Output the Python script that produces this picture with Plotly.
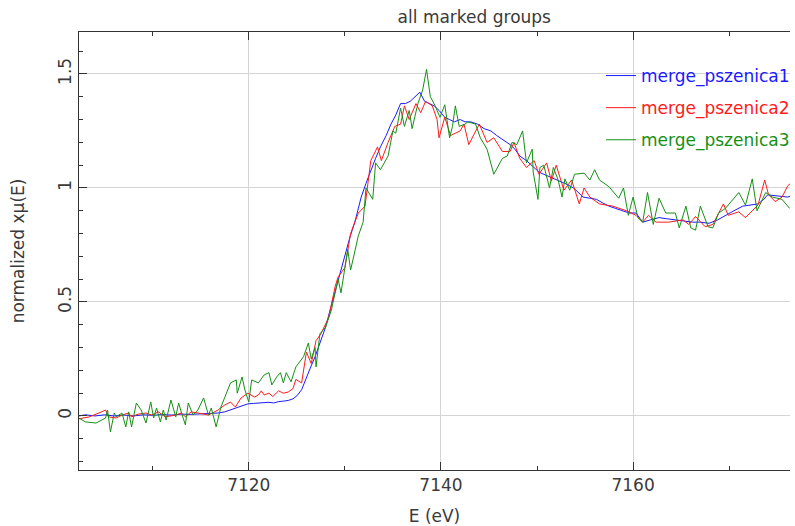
import plotly.graph_objects as go

# ---- data ----
e1 = [7102.3, 7103.0, 7104.0, 7105.0, 7106.0, 7107.0, 7108.0, 7109.0, 7110.0, 7111.0,
      7112.0, 7113.0, 7114.0, 7115.0, 7116.0, 7116.8, 7117.5, 7118.1, 7118.8, 7119.3,
      7119.9, 7120.5, 7121.0, 7121.6, 7122.1, 7122.6, 7123.1, 7123.6, 7124.1, 7124.6,
      7125.0, 7125.5, 7125.9, 7126.4, 7126.9, 7127.5, 7128.0, 7128.5, 7129.0, 7129.5,
      7130.0, 7130.5, 7131.1, 7131.7, 7132.2, 7132.7, 7133.2, 7133.7, 7134.3, 7134.8,
      7135.3, 7135.8, 7136.3, 7136.8, 7137.3, 7137.8, 7138.3, 7138.8, 7139.3, 7139.8,
      7140.4, 7140.9, 7141.4, 7142.0, 7142.5, 7143.1, 7143.8, 7144.5, 7145.2, 7145.8,
      7146.5, 7147.2, 7147.7, 7148.2, 7148.9, 7149.7, 7150.2, 7150.7, 7151.3, 7152.0,
      7152.9, 7153.8, 7154.3, 7154.8, 7155.5, 7156.2, 7156.8, 7157.5, 7158.2, 7159.0,
      7159.6, 7160.3, 7161.0, 7161.8, 7162.7, 7163.5, 7164.4, 7165.3, 7166.2, 7167.0,
      7167.9, 7168.8, 7169.6, 7170.5, 7171.4, 7172.2, 7173.0, 7173.6, 7174.0, 7175.0,
      7176.1, 7176.4]
mu1 = [0.000, 0.005, 0.000, 0.005, 0.000, 0.004, 0.000, 0.005, 0.003, 0.006,
       0.004, 0.008, 0.007, 0.010, 0.010, 0.013, 0.018, 0.026, 0.035, 0.045,
       0.053, 0.055, 0.057, 0.058, 0.060, 0.057, 0.063, 0.065, 0.068, 0.075,
       0.088, 0.115, 0.160, 0.210, 0.260, 0.330, 0.390, 0.470, 0.550, 0.630,
       0.700, 0.780, 0.860, 0.960, 1.020, 1.080, 1.130, 1.180, 1.230, 1.280,
       1.320, 1.370, 1.370, 1.380, 1.400, 1.420, 1.380, 1.370, 1.360, 1.340,
       1.310, 1.300, 1.290, 1.300, 1.290, 1.290, 1.280, 1.260, 1.250, 1.230,
       1.210, 1.190, 1.170, 1.140, 1.120, 1.090, 1.070, 1.060, 1.050, 1.035,
       1.020, 1.000, 0.980, 0.960, 0.955, 0.950, 0.935, 0.920, 0.910, 0.900,
       0.890, 0.890, 0.850, 0.860, 0.870, 0.865, 0.860, 0.855, 0.850, 0.850,
       0.845, 0.860, 0.880, 0.900, 0.920, 0.925, 0.930, 0.950, 0.970, 0.965,
       0.960, 0.965]

e2 = [7102.3, 7103.4, 7104.4, 7105.1, 7105.4, 7106.2, 7106.8, 7107.5, 7107.8, 7108.5,
      7109.3, 7109.9, 7110.6, 7111.3, 7112.4, 7113.0, 7113.4, 7114.0, 7114.7, 7115.8,
      7116.8, 7117.5, 7118.1, 7118.6, 7119.2, 7119.9, 7120.6, 7121.0, 7121.3, 7121.6,
      7122.1, 7122.5, 7123.1, 7123.6, 7124.1, 7124.6, 7124.9, 7125.5, 7126.0, 7126.5,
      7127.0, 7127.5, 7128.3, 7129.0, 7129.3, 7130.0, 7130.6, 7131.4, 7132.1, 7132.7,
      7133.4, 7133.8, 7134.5, 7135.2, 7135.8, 7136.2, 7136.7, 7137.4, 7137.9, 7138.4,
      7139.1, 7139.6, 7139.8, 7140.4, 7141.0, 7142.0, 7142.4, 7142.9, 7143.5, 7144.0,
      7144.8, 7145.5, 7146.4, 7147.2, 7147.6, 7148.2, 7148.9, 7149.7, 7150.2, 7151.0,
      7151.5, 7152.0, 7152.8, 7153.6, 7154.4, 7154.9, 7155.5, 7156.5, 7157.9, 7159.3,
      7160.3, 7161.0, 7161.6, 7162.4, 7163.7, 7165.2, 7165.8, 7166.5, 7167.5, 7168.3,
      7169.4, 7169.9, 7171.0, 7171.7, 7173.0, 7173.7, 7174.1, 7174.8, 7175.5, 7176.1,
      7176.4]
mu2 = [-0.013, -0.004, 0.013, 0.026, -0.004, -0.009, 0.004, 0.013, -0.004, 0.008,
       0.013, 0.004, 0.018, -0.004, 0.004, 0.013, -0.004, 0.018, 0.013, 0.004,
       0.026, 0.048, 0.061, 0.039, 0.079, 0.100, 0.083, 0.092, 0.110, 0.092,
       0.100, 0.085, 0.110, 0.100, 0.105, 0.120, 0.160, 0.145, 0.280, 0.230,
       0.330, 0.360, 0.430, 0.570, 0.610, 0.650, 0.800, 0.890, 0.920, 1.120,
       1.180, 1.120, 1.200, 1.270, 1.280, 1.360, 1.300, 1.370, 1.330, 1.380,
       1.360, 1.300, 1.220, 1.310, 1.230, 1.250, 1.280, 1.190, 1.240, 1.280,
       1.200, 1.220, 1.160, 1.160, 1.200, 1.130, 1.090, 1.120, 1.060, 1.110,
       1.030, 1.100, 0.990, 1.035, 0.930, 1.000, 0.960, 0.930, 0.920, 0.900,
       0.880, 0.850, 0.880, 0.850, 0.850, 0.860, 0.840, 0.875, 0.830, 0.840,
       0.930, 0.880, 0.895, 0.870, 0.925, 1.035, 0.970, 0.940, 0.960, 1.010,
       1.020]

e3 = [7102.3, 7103.0, 7104.1, 7105.1, 7105.3, 7105.6, 7106.0, 7106.2, 7106.8, 7107.2,
      7107.5, 7107.8, 7108.3, 7108.8, 7109.3, 7109.8, 7110.1, 7110.4, 7110.8, 7111.1,
      7111.4, 7111.9, 7112.4, 7112.7, 7113.0, 7113.4, 7113.7, 7114.2, 7114.7, 7115.3,
      7115.8, 7116.1, 7116.6, 7117.1, 7117.6, 7118.1, 7118.7, 7118.8, 7119.3, 7119.6,
      7120.0, 7120.3, 7121.0, 7121.6, 7122.1, 7122.4, 7122.9, 7123.3, 7123.6, 7123.9,
      7124.4, 7124.9, 7125.7, 7126.2, 7126.5, 7126.9, 7127.0, 7127.4, 7128.0, 7128.6,
      7129.3, 7129.6, 7130.3, 7130.6, 7131.4, 7131.9, 7132.2, 7132.9, 7133.2, 7133.7,
      7134.5, 7135.0, 7135.3, 7135.8, 7136.2, 7136.7, 7137.0, 7137.6, 7138.1, 7138.5,
      7138.9, 7139.4, 7139.9, 7140.4, 7140.9, 7141.2, 7141.5, 7141.9, 7142.5, 7142.8,
      7143.6, 7144.1, 7144.8, 7145.5, 7146.4, 7146.9, 7147.4, 7147.9, 7148.5, 7148.9,
      7149.5, 7149.6, 7150.1, 7150.3, 7150.7, 7151.0, 7151.3, 7151.7, 7152.2, 7152.6,
      7152.9, 7153.4, 7153.9, 7154.9, 7155.5, 7156.0, 7156.5, 7157.5, 7158.5, 7159.0,
      7159.5, 7160.0, 7160.5, 7161.0, 7161.5, 7162.1, 7162.7, 7163.4, 7164.4, 7164.8,
      7165.5, 7166.0, 7166.5, 7167.0, 7167.8, 7168.3, 7168.9, 7169.6, 7171.0, 7171.7,
      7172.4, 7172.9, 7173.8, 7174.5, 7175.5, 7176.3]
mu3 = [-0.009, -0.026, -0.031, -0.009, 0.026, -0.070, 0.013, -0.004, 0.013, -0.048,
       0.018, -0.048, 0.057, 0.026, -0.031, 0.061, -0.009, 0.035, -0.026, 0.026,
       -0.018, 0.070, -0.004, 0.057, 0.013, -0.039, 0.057, 0.004, 0.026, 0.079,
       0.004, 0.035, -0.048, 0.039, 0.092, 0.145, 0.158, 0.100, 0.171, 0.114,
       0.061, 0.158, 0.145, 0.180, 0.190, 0.136, 0.171, 0.190, 0.145, 0.190,
       0.150, 0.215, 0.260, 0.320, 0.250, 0.300, 0.215, 0.360, 0.390, 0.465,
       0.600, 0.540, 0.730, 0.640, 0.790, 0.850, 1.000, 0.950, 1.110, 1.080,
       1.140, 1.250, 1.240, 1.350, 1.270, 1.340, 1.260, 1.370, 1.430, 1.520,
       1.400, 1.360, 1.310, 1.365, 1.220, 1.270, 1.360, 1.270, 1.280, 1.290,
       1.280, 1.220, 1.170, 1.060, 1.130, 1.140, 1.200, 1.190, 1.250, 1.110,
       1.170, 1.070, 0.950, 1.090, 1.100, 1.050, 1.000, 1.090, 1.035, 0.960,
       1.040, 0.990, 1.060, 1.065, 1.035, 1.080, 1.035, 1.005, 0.955, 1.000,
       0.880, 0.960, 0.870, 0.850, 0.980, 0.840, 0.955, 0.890, 0.890, 0.825,
       0.920, 0.825, 0.815, 0.920, 0.830, 0.825, 0.890, 0.910, 0.980, 0.925,
       1.040, 0.900, 0.980, 0.960, 0.950, 0.910]

names = ["merge_pszenica1", "merge_pszenica2", "merge_pszenica3"]
colors = ["#1a1aff", "#ff1a1a", "#159015"]
series = [(e1, mu1), (e2, mu2), (e3, mu3)]

x_range = [7102.33, 7176.33]
y_range = [-0.237, 1.684]

FONT = "DejaVu Sans"
TXT = "#3a3a3a"
FS = 17

fig = go.Figure()
for i, ((ex, mu), nm, col) in enumerate(zip(series, names, colors)):
    fig.add_trace(go.Scatter(
        x=ex, y=mu, mode="lines", name=f"<span style='color:{col}'>{nm}</span>",
        line=dict(color=col, width=1), legendgroup=f"g{i}", showlegend=True))

fig.update_layout(
    width=795, height=526,
    margin=dict(l=79, r=0, t=32, b=56),
    paper_bgcolor="white", plot_bgcolor="white",
    font=dict(family=FONT, size=FS, color=TXT),
    title=dict(text="all marked groups", x=442/795, xref="paper", xanchor="center",
               y=1 - 17/526, yref="container", yanchor="middle",
               font=dict(family=FONT, size=FS, color=TXT)),
    legend=dict(x=(605-79)/716, y=1 - (58-32)/438, xanchor="left", yanchor="top",
                bgcolor="rgba(0,0,0,0)", borderwidth=0, tracegroupgap=7,
                font=dict(family=FONT, size=FS)),
    showlegend=True,
)
fig.update_xaxes(
    range=x_range, showgrid=True, gridcolor="#d4d4d4", gridwidth=1,
    tickvals=[7120, 7140, 7160], ticks="inside", ticklen=8, tickcolor="#333",
    showline=True, linecolor="#333", linewidth=1, mirror="ticks",
    minor=dict(tickvals=[7110, 7130, 7150, 7170], ticks="inside", ticklen=4, tickcolor="#333"),
    zeroline=False, tickfont=dict(family=FONT, size=FS, color=TXT),
    title=dict(text="E (eV)", font=dict(family=FONT, size=FS, color=TXT), standoff=16),
)
fig.update_yaxes(
    range=y_range, showgrid=True, gridcolor="#d4d4d4", gridwidth=1,
    tickvals=[0, 0.5, 1, 1.5], ticktext=["0", "0.5", "1", "1.5"], tickangle=-90,
    ticks="inside", ticklen=8, tickcolor="#333",
    showline=True, linecolor="#333", linewidth=1,
    minor=dict(dtick=0.1, tick0=0, ticks="inside", ticklen=4, tickcolor="#333"),
    zeroline=False, tickfont=dict(family=FONT, size=FS, color=TXT),
    title=dict(text="normalized xμ(E)", font=dict(family=FONT, size=FS, color=TXT), standoff=26),
)

fig.write_html("out.html")
